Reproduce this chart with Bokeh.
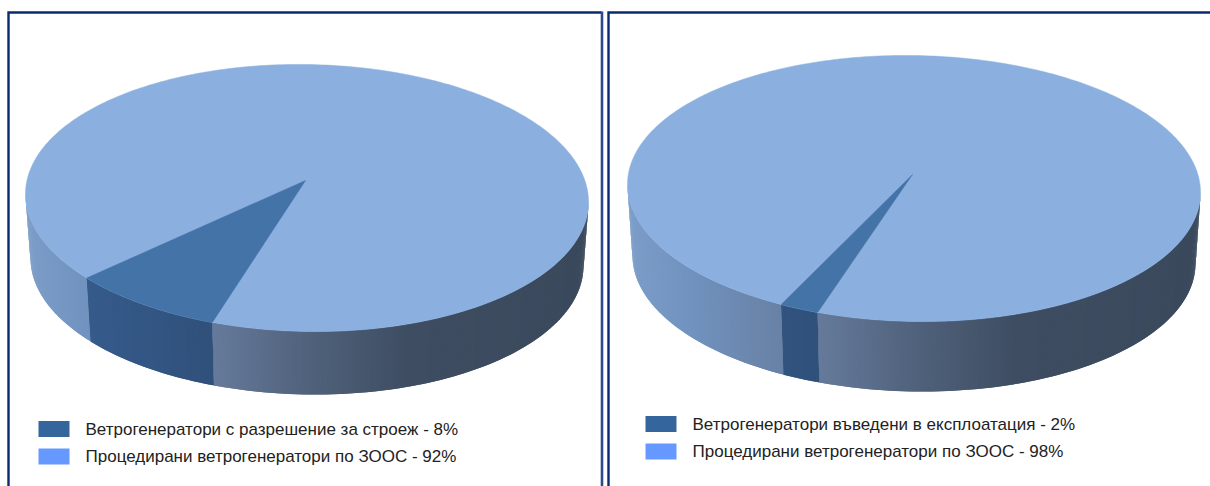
import numpy as np
from bokeh.plotting import figure
from bokeh.models import Range1d
from bokeh.core.properties import value
from bokeh.embed import file_html
from bokeh.resources import INLINE

# Shares of each pie, in percent
left_shares = [8, 92]
right_shares = [2, 98]
left_labels = ["Ветрогенератори с разрешение за строеж - 8%",
               "Процедирани ветрогенератори по ЗООС - 92%"]
right_labels = ["Ветрогенератори въведени в експлоатация - 2%",
                "Процедирани ветрогенератори по ЗООС - 98%"]

TOP_LIGHT = "#8bb0e0"
TOP_DARK = "#4473a8"
SWATCHES = ["#34659c", "#6699ff"]
FRAME = "#0a2a6e"
FRAME_SOFT = "#2c4a8c"
# Shading of the pie's rim from its left end (0) to its right end (1)
LIGHT_STOPS = [(0.0, (124, 157, 200)), (0.11, (112, 146, 190)), (0.33, (102, 122, 155)),
               (0.50, (80, 98, 124)), (0.68, (62, 77, 97)), (1.0, (58, 73, 92))]
DARK_STOPS = [(0.10, (54, 91, 140)), (0.34, (47, 80, 121))]
# Perspective makes the front of the disc look wider than its true angle
FORESHORTEN = 1.106
NEAR_EDGE_DEG = 109.65
SHEAR = 0.014
STEP_DEG = 0.75


def shade(stops, u):
    xs = [s[0] for s in stops]
    rgb = [int(round(np.interp(u, xs, [s[1][k] for s in stops]))) for k in range(3)]
    return "#%02x%02x%02x" % tuple(rgb)


p = figure(width=1210, height=486, output_backend="svg", toolbar_location=None,
           x_range=Range1d(0, 1210), y_range=Range1d(486, 0),
           min_border=0, outline_line_color=None, background_fill_color="white")
p.axis.visible = False
p.grid.visible = False


def ellipse(cx, cy, a, b, deg):
    t = np.radians(deg)
    x = cx + a * np.cos(t)
    y = cy + b * np.sin(t) + SHEAR * (a * np.cos(t))
    return x, y


def draw_rim(cx, cy, a, b, depth, inset, start, end, stops):
    # Overlapping strips, later ones covering the seam of the one before
    xs, ys, colors = [], [], []
    count = max(2, int(np.ceil((end - start) / STEP_DEG)))
    edges = np.linspace(start, end, count + 1)
    for i in range(count):
        t1 = edges[i]
        t2 = edges[min(i + 2, count)]
        x1, y1 = ellipse(cx, cy, a, b, t1)
        x2, y2 = ellipse(cx, cy, a, b, t2)
        x3, y3 = ellipse(cx, cy + depth, a - inset, b - 1, t2)
        x4, y4 = ellipse(cx, cy + depth, a - inset, b - 1, t1)
        xm, _ = ellipse(cx, cy, a, b, (edges[i] + edges[i + 1]) / 2)
        colors.append(shade(stops, (xm - (cx - a)) / (2 * a)))
        xs.append([x1, x2, x3, x4])
        ys.append([y1, y2, y3, y4])
    p.patches(xs, ys, fill_color=colors, line_color=None)


def draw_pie(shares, labels, cx, cy, a, b, apex, depth, inset, legend_x, legend_y):
    far_edge = NEAR_EDGE_DEG + shares[0] * 3.6 * FORESHORTEN
    draw_rim(cx, cy, a, b, depth, inset, 0.0, NEAR_EDGE_DEG, LIGHT_STOPS)
    draw_rim(cx, cy, a, b, depth, inset, far_edge, 180.0, LIGHT_STOPS)
    draw_rim(cx, cy, a, b, depth, inset, NEAR_EDGE_DEG, far_edge, DARK_STOPS)

    full = np.linspace(0, 360, 361)
    ex, ey = ellipse(cx, cy, a, b, full)
    p.patch(ex, ey, fill_color=TOP_LIGHT, line_color=TOP_LIGHT, line_width=0.5)

    arc = np.linspace(NEAR_EDGE_DEG, far_edge, 40)
    wx, wy = ellipse(cx, cy, a, b, arc)
    p.patch(np.r_[apex[0], wx], np.r_[apex[1], wy],
            fill_color=TOP_DARK, line_color=TOP_DARK, line_width=0.5)

    for i, label in enumerate(labels):
        y = legend_y + i * 27.5
        p.quad(left=legend_x, right=legend_x + 31, top=y - 8, bottom=y + 8,
               fill_color=SWATCHES[i], line_color=None)
        p.text([legend_x + 47], [y], text=[label], text_baseline="middle", text_align="left",
               text_font=value("Liberation Sans"), text_font_size="17px", text_color="#222222")


draw_pie(left_shares, left_labels, 306.5, 197.5, 281.5, 133.5, (305, 180), 64, 5, 38, 428.5)
draw_pie(right_shares, right_labels, 913.5, 188, 286.5, 133, (912, 174), 71, 5, 645, 423.5)

# Panel frames: open at the bottom, and the right panel runs off the page
p.line([8, 8, 601], [486, 12, 12], line_color=FRAME, line_width=2.4, line_join="miter")
p.line([601.5, 601.5], [11, 486], line_color=FRAME_SOFT, line_width=2.6)
p.line([608, 608, 1210], [486, 12, 12], line_color=FRAME, line_width=2.4, line_join="miter")

open("out.html", "w").write(file_html(p, INLINE))
